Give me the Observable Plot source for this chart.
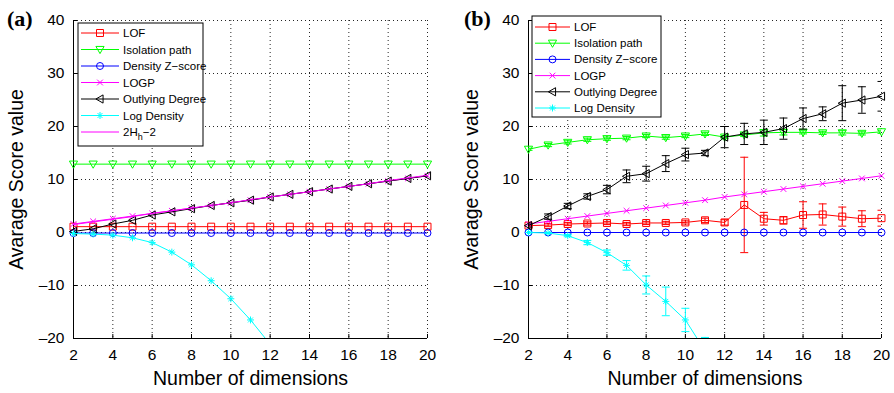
<!DOCTYPE html>
<html><head><meta charset="utf-8">
<script src="https://cdn.jsdelivr.net/npm/d3@7"></script>
<script src="https://cdn.jsdelivr.net/npm/@observablehq/plot@0.6"></script>
<style>
body{margin:0;background:#fff;}
#wrap{position:relative;width:894px;height:393px;display:flex;font-family:"Liberation Sans",Arial,sans-serif;}
.panel{position:relative;width:447px;height:393px;}
.panel svg.overlay{position:absolute;left:0;top:0;pointer-events:none;}
svg [aria-label="x-axis label"] text, svg [aria-label="y-axis label"] text{font-size:19.5px;}
svg [aria-label="x-axis tick label"] text, svg [aria-label="y-axis tick label"] text{font-size:15.5px;}
</style>
</head><body><div id="wrap"></div>
<script>
// ---------- data ----------
const dims = [2,3,4,5,6,7,8,9,10,11,12,13,14,15,16,17,18,19,20];
const xTicks = [2,4,6,8,10,12,14,16,18,20];
const yTicks = [-20,-10,0,10,20,30,40];

// panel (a)
const lofA = [1.1,1.1,1.1,1.1,1.1,1.1,1.1,1.1,1.1,1.1,1.1,1.1,1.1,1.1,1.1,1.1,1.1,1.1,1.1];
const isoA = [12.9,12.9,12.9,12.9,12.9,12.9,12.9,12.9,12.9,12.9,12.9,12.9,12.9,12.9,12.9,12.9,12.9,12.9,12.9];
const zA   = [-0.1,-0.1,-0.1,-0.1,-0.1,-0.1,-0.1,-0.1,-0.1,-0.1,-0.1,-0.1,-0.1,-0.1,-0.1,-0.1,-0.1,-0.1,-0.1];
const logpA= [1.6,2.1,2.6,3.1,3.6,4.1,4.6,5.1,5.6,6.1,6.7,7.2,7.7,8.2,8.7,9.2,9.7,10.2,10.7];
const odA  = [0.2,0.7,1.6,2.3,3.3,3.9,4.5,5.1,5.6,6.1,6.7,7.2,7.7,8.2,8.7,9.2,9.7,10.2,10.7];
const logDenA = [-0.2,-0.3,-0.5,-1.0,-1.9,-3.7,-6.1,-9.1,-12.5,-16.5,-21.1];
const hA   = [1.5,2.0,2.5,3.0,3.6,4.1,4.6,5.1,5.6,6.2,6.7,7.2,7.7,8.2,8.7,9.2,9.8,10.3,10.8];

// panel (b) means and error half-widths
const lofB = [1.3,1.4,1.6,1.7,1.8,1.6,1.8,1.8,1.9,2.3,1.9,5.2,2.6,2.3,3.3,3.4,3.0,2.6,2.7];
const lofBErr = [0.2,0.3,0.3,0.3,0.3,0.3,0.3,0.3,0.3,0.4,0.5,9.0,1.2,0.7,2.5,2.0,1.8,1.5,1.5];
const isoB = [15.7,16.5,17.0,17.5,17.7,17.8,18.2,17.9,18.2,18.6,18.0,18.4,18.8,18.9,18.9,18.8,18.8,18.7,19.0];
const isoBErr = [0.2,0.3,0.3,0.3,0.3,0.3,0.3,0.3,0.3,0.3,0.3,0.3,0.6,0.5,0.3,0.3,0.4,0.3,0.3];
const zB   = [0,0,0,0,0,0,0,0,0,0,0,0,0,0,0,0,0,0,0];
const logpB= [1.6,2.1,2.6,3.1,3.6,4.1,4.6,5.1,5.6,6.1,6.7,7.2,7.7,8.2,8.7,9.2,9.7,10.2,10.7];
const odB  = [1.3,3.0,5.0,6.8,8.1,10.6,11.1,13.0,14.7,15.0,18.0,18.6,18.9,19.6,21.5,22.4,24.4,25.0,25.7];
const odBErr = [0.3,0.5,0.5,0.5,0.8,1.2,1.4,1.5,1.2,0.5,2.0,2.0,2.3,2.0,2.0,1.3,3.3,2.5,2.8];
const logDenB = [0,-0.1,-0.6,-1.9,-3.8,-6.2,-9.9,-13.0,-16.5,-22.3];
const logDenBErr = [0.1,0.1,0.2,0.4,0.5,0.9,1.7,2.7,2.2,2.5];

const names = ["LOF","Isolation path","Density Z\u2212score","LOGP","Outlying Degree","Log Density"];
const colors = ["#ff0000","#00ff00","#0000ff","#ff00ff","#000000","#00ffff"];

// ---------- custom marker symbols ----------
const R = s => Math.sqrt(s/Math.PI);
const symSquare = {draw(c,s){const r=R(s)*0.85;c.moveTo(-r,-r);c.lineTo(r,-r);c.lineTo(r,r);c.lineTo(-r,r);c.closePath();}};
const symTriDown = {draw(c,s){const r=R(s);c.moveTo(-r,-r*0.75);c.lineTo(r,-r*0.75);c.lineTo(0,r);c.closePath();}};
const symCircle = {draw(c,s){const r=R(s)*0.85;c.moveTo(r,0);c.arc(0,0,r,0,2*Math.PI);}};
const symTimes = {draw(c,s){const r=R(s)*0.7;c.moveTo(-r,-r);c.lineTo(r,r);c.moveTo(-r,r);c.lineTo(r,-r);}};
const symTriLeft = {draw(c,s){const r=R(s);c.moveTo(r*0.75,-r);c.lineTo(r*0.75,r);c.lineTo(-r,0);c.closePath();}};
const symAst = {draw(c,s){const r=R(s)*0.85,d=r*0.707;c.moveTo(-r,0);c.lineTo(r,0);c.moveTo(0,-r);c.lineTo(0,r);c.moveTo(-d,-d);c.lineTo(d,d);c.moveTo(-d,d);c.lineTo(d,-d);}};
const symCap = {draw(c,s){const r=R(s);c.moveTo(-r,0);c.lineTo(r,0);}};
const symbols = [symSquare,symTriDown,symCircle,symTimes,symTriLeft,symAst];

function table(ys, errs){
  return ys.map((y,i)=>({x:dims[i], y, lo: errs? y-errs[i]:null, hi: errs? y+errs[i]:null}));
}
const inside = d => d.y >= -20 && d.y <= 40;

function seriesMarks(data, k, withErr){
  const col = colors[k];
  const m = [];
  if (withErr){
    m.push(Plot.ruleX(data,{x:"x",y1:"lo",y2:"hi",stroke:col,strokeWidth:1,clip:true}));
    m.push(Plot.dot(data,{x:"x",y:"lo",symbol:symCap,r:4,stroke:col,strokeWidth:1,clip:true}));
    m.push(Plot.dot(data,{x:"x",y:"hi",symbol:symCap,r:4,stroke:col,strokeWidth:1,clip:true}));
  }
  m.push(Plot.line(data,{x:"x",y:"y",stroke:col,strokeWidth:1,clip:true}));
  m.push(Plot.dot(data.filter(inside),{x:"x",y:"y",symbol:symbols[k],r:4.1,stroke:col,fill:"none",strokeWidth:1}));
  return m;
}

function makePlot(opts){
  return Plot.plot({
    width:447, height:393,
    marginLeft:opts.ml, marginRight:opts.mr, marginTop:20, marginBottom:55,
    style:{fontFamily:'"Liberation Sans",Arial,sans-serif', fontSize:"15px", background:"#fff", color:"#000", overflow:"visible"},
    x:{domain:[2,20]},
    y:{domain:[-20,40]},
    marks:[
      Plot.gridX(xTicks,{stroke:"#000",strokeOpacity:0.85,strokeDasharray:"1,3"}),
      Plot.gridY(yTicks,{stroke:"#000",strokeOpacity:0.85,strokeDasharray:"1,3"}),
      Plot.axisX(xTicks,{tickSize:-4,tickPadding:14,fontSize:15,label:"Number of dimensions",labelAnchor:"center",labelArrow:"none",labelOffset:46}),
      Plot.axisY(yTicks,{tickSize:-4,tickPadding:13,fontSize:15,label:"Avarage Score value",labelAnchor:"center",labelArrow:"none",labelOffset:opts.lo,tickFormat:d=>d<0?"\u2013"+(-d):String(d)}),
      Plot.ruleX([2],{stroke:"#000",strokeWidth:1}),
      Plot.ruleY([-20],{stroke:"#000",strokeWidth:1}),
      ...opts.marks
    ]
  });
}

const marksA = [
  ...seriesMarks(table(lofA),0,false),
  ...seriesMarks(table(isoA),1,false),
  ...seriesMarks(table(zA),2,false),
  ...seriesMarks(table(logpA),3,false),
  ...seriesMarks(table(odA),4,false),
  ...seriesMarks(table(logDenA),5,false),
  Plot.line(table(hA),{x:"x",y:"y",stroke:"#ff00ff",strokeWidth:1,clip:true})
];
const marksB = [
  ...seriesMarks(table(lofB,lofBErr),0,true),
  ...seriesMarks(table(isoB,isoBErr),1,true),
  ...seriesMarks(table(zB),2,false),
  ...seriesMarks(table(logpB),3,false),
  ...seriesMarks(table(odB,odBErr),4,true),
  ...seriesMarks(table(logDenB,logDenBErr),5,true)
];

const wrap = document.getElementById("wrap");
function addPanel(plot, tag, tagX, leg){
  const p = document.createElement("div"); p.className="panel";
  p.appendChild(plot);
  const ov = d3.create("svg").attr("class","overlay").attr("width",447).attr("height",393)
     .style("font-family",'"Liberation Sans",Arial,sans-serif');
  ov.append("text").attr("x",tagX).attr("y",26).attr("font-family",'"Liberation Serif","Times New Roman",serif')
     .attr("font-weight","bold").attr("font-size",22).text(tag);
  const g = ov.append("g");
  g.append("rect").attr("x",leg.x).attr("y",leg.y).attr("width",leg.w).attr("height",leg.h)
     .attr("fill","#fff").attr("stroke","#000").attr("stroke-width",1);
  leg.items.forEach((it,i)=>{
    const cy = leg.y + leg.first + i*leg.step;
    g.append("line").attr("x1",leg.x+3).attr("x2",leg.x+3+leg.len).attr("y1",cy).attr("y2",cy)
      .attr("stroke",it.color).attr("stroke-width",1);
    if (it.sym) g.append("path").attr("d",d3.symbol(it.sym,4.1*4.1*Math.PI)())
      .attr("transform",`translate(${leg.x+3+leg.len/2},${cy})`).attr("fill","none").attr("stroke",it.color);
    const t = g.append("text").attr("x",leg.x+leg.len+7).attr("y",cy+4).attr("font-size",11.5).attr("fill","#000");
    if (it.sub){ t.append("tspan").text("2H"); t.append("tspan").attr("dy",4).attr("font-size",9).text("h"); t.append("tspan").attr("dy",-4).text("\u22122"); }
    else t.text(it.name);
  });
  p.appendChild(ov.node());
  wrap.appendChild(p);
}

const itemsA = names.map((n,k)=>({name:n,color:colors[k],sym:symbols[k]})).concat([{name:"2H_h-2",color:"#ff00ff",sub:true}]);
const itemsB = names.map((n,k)=>({name:n,color:colors[k],sym:symbols[k]}));

addPanel(makePlot({ml:73,mr:20,lo:64,marks:marksA}),"(a)",7,{x:78,y:23,w:125,h:123,first:10,step:16.5,len:38,items:itemsA});
addPanel(makePlot({ml:81,mr:13,lo:64,marks:marksB}),"(b)",17,{x:85,y:16,w:129,h:101,first:11,step:16.2,len:35,items:itemsB});
</script></body></html>
